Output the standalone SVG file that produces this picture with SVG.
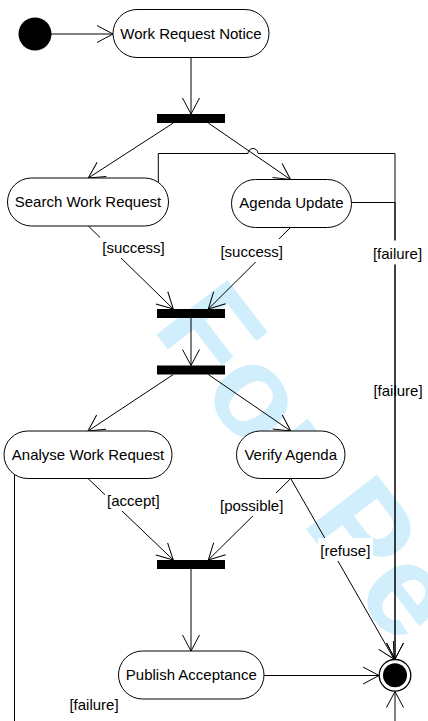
<svg xmlns="http://www.w3.org/2000/svg" width="428" height="721" viewBox="0 0 428 721">
<defs>
<marker id="arr" markerUnits="userSpaceOnUse" markerWidth="40" markerHeight="40" viewBox="-20 -20 40 40" refX="0" refY="0" orient="auto" overflow="visible">
<path d="M-16,-8.5 L0,0 L-16,8.5" fill="none" stroke="#000" stroke-width="1"/>
</marker>
<style>
.node{fill:#fff;stroke:#000;stroke-width:1}
.bar{fill:#000}
.t{font-family:"Liberation Sans",Arial,sans-serif;font-size:15px;fill:#000;text-anchor:middle}
.c{fill:none;stroke:#000;stroke-width:1;marker-end:url(#arr)}
.bg{fill:#fff}
.wm{font-family:"Liberation Sans",Arial,sans-serif;font-weight:bold;font-size:130px;fill:#d0eefb}
</style>
</defs>
<rect width="428" height="721" fill="#fff"/>
<text class="wm" transform="translate(151.2,327.5) rotate(52.5)">For Pe</text>
<g id="connectors">
<path class="c" d="M51,34 L113,34"/>
<path class="c" d="M191,57.5 L191,114"/>
<path class="c" d="M173.3,123 L88.3,178"/>
<path class="c" d="M208.3,123 L290.5,179.5"/>
<path class="c" d="M158.3,182.4 L158.3,153.5 L248,153.5 A5,5 0 0 1 258,153.5 L395,153.5 L395,659"/>
<path class="c" d="M351.5,202.5 L395,202.5 L395,659"/>
<path class="c" d="M88.3,226 L173.3,309"/>
<path class="c" d="M290.5,227.5 L208.3,309"/>
<path class="c" d="M191,318 L191,365.5"/>
<path class="c" d="M173.3,374.5 L88,431"/>
<path class="c" d="M208.3,374.5 L290.7,431"/>
<path class="c" d="M88,478.5 L173.3,560"/>
<path class="c" d="M290.7,478.5 L208.3,560"/>
<path class="c" d="M191,569 L191,651"/>
<path class="c" d="M264,675.5 L379,675.5"/>
<path class="c" d="M290.7,478.5 L394,659"/>
<path class="c" d="M14.5,470 L14.5,745 L395,745 L395,691.5"/>
<rect class="bg" x="100" y="235" width="67" height="23"/>
<text class="t" x="133.5" y="253">[success]</text>
<rect class="bg" x="219" y="239" width="66" height="23"/>
<text class="t" x="251.7" y="257">[success]</text>
<rect class="bg" x="371" y="240.5" width="53" height="24"/>
<text class="t" x="397.5" y="258.5">[failure]</text>
<text class="t" x="398" y="395.5">[failure]</text>
<rect class="bg" x="105" y="488" width="57" height="23"/>
<text class="t" x="133.3" y="506">[accept]</text>
<rect class="bg" x="218" y="493" width="67" height="23"/>
<text class="t" x="251.7" y="511">[possible]</text>
<rect class="bg" x="318" y="538" width="55" height="23"/>
<text class="t" x="345.3" y="556">[refuse]</text>
<text class="t" x="94" y="710">[failure]</text>
</g>
<g id="start"><circle cx="35" cy="34" r="16.5" fill="#000"/></g>
<g id="work-request-notice"><rect class="node" x="113" y="9.5" width="156" height="48" rx="24"/><text class="t" x="191" y="38.5">Work Request Notice</text></g>
<g id="fork1"><rect class="bar" x="157" y="114" width="68" height="9"/></g>
<g id="search-work-request"><rect class="node" x="7.5" y="178" width="161" height="48" rx="24"/><text class="t" x="88" y="207">Search Work Request</text></g>
<g id="agenda-update"><rect class="node" x="231.5" y="179.5" width="120" height="48" rx="24"/><text class="t" x="291.5" y="208">Agenda Update</text></g>
<g id="join1"><rect class="bar" x="157" y="309" width="68" height="9"/></g>
<g id="fork2"><rect class="bar" x="157" y="365.5" width="68" height="9"/></g>
<g id="analyse-work-request"><rect class="node" x="4" y="431" width="168" height="47.5" rx="23.75"/><text class="t" x="88" y="459.5">Analyse Work Request</text></g>
<g id="verify-agenda"><rect class="node" x="236.5" y="431" width="108.5" height="47.5" rx="23.75"/><text class="t" x="290.7" y="459.5">Verify Agenda</text></g>
<g id="join2"><rect class="bar" x="157" y="560" width="68" height="9"/></g>
<g id="publish-acceptance"><rect class="node" x="118.5" y="651" width="145.5" height="48" rx="24"/><text class="t" x="191.3" y="680">Publish Acceptance</text></g>
<g id="end"><circle cx="395" cy="675.3" r="15.8" fill="#fff" stroke="#000" stroke-width="1.3"/><circle cx="395" cy="675.3" r="12" fill="#000"/></g>
</svg>
